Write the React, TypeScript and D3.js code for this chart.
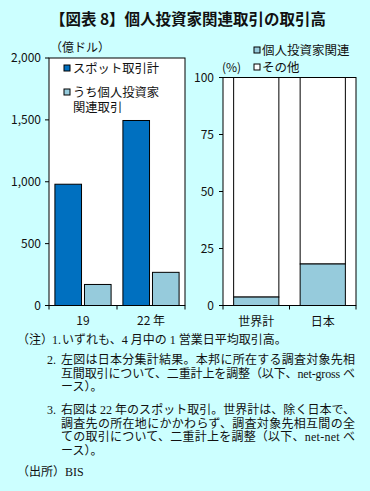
import React, { useEffect } from "react";
import * as d3 from "d3";

// left panel: spot turnover (100 million USD)
const years = ["19", "22 年"];
const spotTotal = [980, 1495];
const individualRelated = [170, 268];
const leftTicks = [0, 500, 1000, 1500, 2000];

// right panel: share of individual-investor related deals (%)
const regions = ["世界計", "日本"];
const individualShare = [3.7, 18.2];
const rightTicks = [0, 25, 50, 75, 100];

const notes = [
  { num: "1.", lines: ["いずれも、4 月中の 1 営業日平均取引高。"] },
  {
    num: "2.",
    lines: [
      "左図は日本分集計結果。本邦に所在する調査対象先相",
      "互間取引について、二重計上を調整（以下、net-gross ベ",
      "ース）。",
    ],
  },
  {
    num: "3.",
    lines: [
      "右図は 22 年のスポット取引。世界計は、除く日本で、",
      "調査先の所在地にかかわらず、調査対象先相互間の全",
      "ての取引について、二重計上を調整（以下、net-net ベ",
      "ース）。",
    ],
  },
];

const BG = "#ccffff";
const DARK = "#0070c0";
const LIGHT = "#96cbdc";
const SANS = "'Noto Sans CJK JP', 'Liberation Sans', sans-serif";
const SERIF = "'Liberation Serif', 'Noto Sans CJK JP', serif";

export default function App() {
  useEffect(() => {
    document.body.style.margin = "0";
  }, []);

  // left scales
  const xL = d3.scaleBand().domain(years).range([49, 185]);
  const xLin = d3.scaleBand().domain(["spot", "ind"]).range([0, xL.bandwidth()]).paddingInner(0.1).paddingOuter(0.2);
  const yL = d3.scaleLinear().domain([0, 2000]).range([305.5, 58]);

  // right scales
  const xR = d3.scaleBand().domain(regions).range([223, 356]).paddingInner(0.32).paddingOuter(0.16);
  const yR = d3.scaleLinear().domain([0, 100]).range([305.5, 77.5]);

  const fmt = d3.format(",");

  return (
    <svg width={370} height={491} style={{ display: "block" }}>
      <rect x={0} y={0} width={370} height={491} fill={BG} />
      <text x={188} y={25} textAnchor="middle" fontFamily={SANS} fontSize={15.5} fontWeight="bold" fill="#111">
        【図表 8】個人投資家関連取引の取引高
      </text>

      {/* left panel */}
      <rect x={49} y={yL(2000)} width={136} height={yL(0) - yL(2000)} fill="#fff" stroke="#000" />
      <text x={50} y={52} fontFamily={SANS} fontSize={12} fill="#111">（億ドル）</text>
      {leftTicks.map((t) => (
        <g key={t}>
          <line x1={45} x2={49} y1={yL(t)} y2={yL(t)} stroke="#000" />
          <text x={41} y={yL(t) + 4} textAnchor="end" fontFamily={SANS} fontSize={12} fill="#111">{fmt(t)}</text>
        </g>
      ))}
      {years.map((yr, i) => (
        <g key={yr}>
          <rect x={xL(yr)! + xLin("spot")!} y={yL(spotTotal[i])} width={xLin.bandwidth()} height={yL(0) - yL(spotTotal[i])} fill={DARK} stroke="#000" />
          <rect x={xL(yr)! + xLin("ind")!} y={yL(individualRelated[i])} width={xLin.bandwidth()} height={yL(0) - yL(individualRelated[i])} fill={LIGHT} stroke="#000" />
          <text x={xL(yr)! + xL.bandwidth() / 2} y={325} textAnchor="middle" fontFamily={SANS} fontSize={12} fill="#111">{yr}</text>
        </g>
      ))}
      {[49, 49 + xL.bandwidth(), 185].map((x) => (
        <line key={x} x1={x} x2={x} y1={yL(0)} y2={yL(0) + 4} stroke="#000" />
      ))}
      {/* left legend */}
      <rect x={64} y={65} width={6} height={6} fill={DARK} stroke="#000" />
      <text x={73} y={73} fontFamily={SANS} fontSize={12.3} fill="#111">スポット取引計</text>
      <rect x={64} y={89} width={6} height={6} fill={LIGHT} stroke="#000" />
      <text x={73} y={97} fontFamily={SANS} fontSize={12.3} fill="#111">うち個人投資家</text>
      <text x={73} y={112} fontFamily={SANS} fontSize={12.3} fill="#111">関連取引</text>

      {/* right panel */}
      <rect x={223} y={yR(100)} width={133} height={yR(0) - yR(100)} fill="#fff" stroke="#000" />
      <text x={222} y={72} fontFamily={SANS} fontSize={12} fill="#111">(%)</text>
      {rightTicks.map((t) => (
        <g key={t}>
          <line x1={219} x2={223} y1={yR(t)} y2={yR(t)} stroke="#000" />
          <text x={214} y={yR(t) + 4} textAnchor="end" fontFamily={SANS} fontSize={12} fill="#111">{t}</text>
        </g>
      ))}
      {regions.map((r, i) => (
        <g key={r}>
          <rect x={xR(r)!} y={yR(100)} width={xR.bandwidth()} height={yR(individualShare[i]) - yR(100)} fill="#fff" stroke="#000" />
          <rect x={xR(r)!} y={yR(individualShare[i])} width={xR.bandwidth()} height={yR(0) - yR(individualShare[i])} fill={LIGHT} stroke="#000" />
          <text x={xR(r)! + xR.bandwidth() / 2} y={326} textAnchor="middle" fontFamily={SANS} fontSize={12} fill="#111">{r}</text>
        </g>
      ))}
      {[223, 289.5, 356].map((x) => (
        <line key={x} x1={x} x2={x} y1={yR(0)} y2={yR(0) + 4} stroke="#000" />
      ))}
      {/* right legend */}
      <rect x={254} y={47} width={6} height={6} fill={LIGHT} stroke="#000" />
      <text x={262} y={55} fontFamily={SANS} fontSize={12.5} fill="#111">個人投資家関連</text>
      <rect x={254} y={64} width={6} height={6} fill="#fff" stroke="#000" />
      <text x={262} y={72} fontFamily={SANS} fontSize={12.5} fill="#111">その他</text>

      {/* notes */}
      <g fontFamily={SERIF} fontSize={12} fill="#111">
        <text x={17} y={344}>（注）</text>
        {notes.map((n, i) => {
          const top = [344, 364, 414][i];
          return (
            <g key={n.num}>
              <text x={i === 0 ? 52 : 47} y={top}>{n.num}</text>
              {n.lines.map((l, j) => (
                <text key={j} x={i === 0 ? 62 : 61} y={top + j * 13.6}
                  textLength={j < n.lines.length - 1 ? 294 : undefined} lengthAdjust="spacing">{l}</text>
              ))}
            </g>
          );
        })}
        <text x={17} y={476}>（出所）BIS</text>
      </g>
    </svg>
  );
}
